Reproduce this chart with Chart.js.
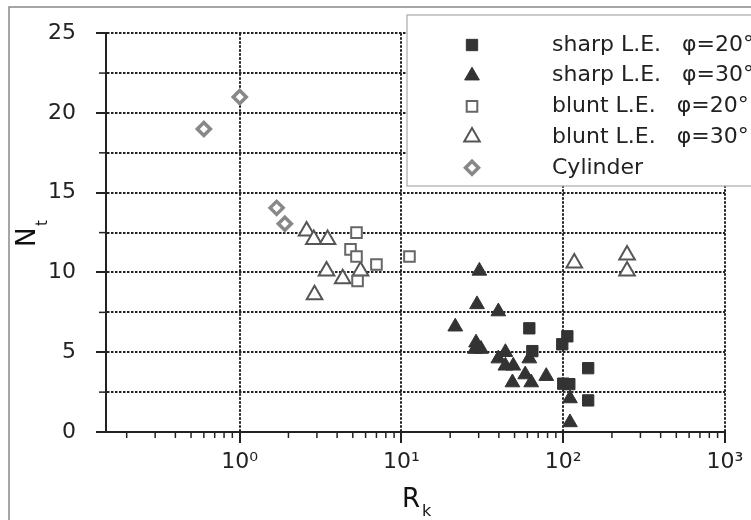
<!DOCTYPE html>
<html>
<head>
<meta charset="utf-8">
<script src="https://cdn.jsdelivr.net/npm/chart.js@4.4.0/dist/chart.umd.min.js"></script>
<style>
  html, body { margin: 0; padding: 0; background: #fff; }
  canvas { display: block; }
</style>
</head>
<body>
<canvas id="chart" width="751" height="520"></canvas>
<script>
// 資料
const seriesNames = ['sharp L.E.   φ=20°', 'sharp L.E.   φ=30°', 'blunt L.E.   φ=20°', 'blunt L.E.   φ=30°', 'Cylinder'];

const sharp20X = [61.7, 106, 98.6, 64.4, 142.6, 100, 109, 142.6];
const sharp20Y = [6.5, 6.0, 5.5, 5.07, 4.0, 3.03, 3.0, 1.98];

const sharp30X = [30.3, 29.3, 39.7, 21.5, 28.9, 28.5, 31, 43.9, 39.7, 61.7, 43.9, 49.1, 58.2, 48.5, 63.4, 78.5, 110, 110];
const sharp30Y = [10.1, 8.0, 7.55, 6.6, 5.6, 5.2, 5.2, 5.0, 4.6, 4.6, 4.15, 4.15, 3.6, 3.1, 3.1, 3.5, 2.1, 0.6];

const blunt20X = [5.27, 4.84, 5.27, 7.0, 11.2, 5.35];
const blunt20Y = [12.5, 11.45, 11.0, 10.5, 11.0, 9.47];

const blunt30X = [2.59, 2.87, 3.49, 3.44, 4.33, 5.58, 2.9, 117, 248, 248];
const blunt30Y = [12.6, 12.07, 12.07, 10.1, 9.6, 10.1, 8.6, 10.6, 11.1, 10.1];

const cylinderX = [0.6, 1.0, 1.69, 1.9];
const cylinderY = [19.0, 21.0, 14.05, 13.06];

const xTickValues = [1, 10, 100, 1000];
const xTickLabels = ['10⁰', '10¹', '10²', '10³'];
const yTickValues = [0, 2.5, 5, 7.5, 10, 12.5, 15, 17.5, 20, 22.5, 25];
const yTickLabels = ['0', '', '5', '', '10', '', '15', '', '20', '', '25'];

const X_MIN = 0.149, X_MAX = 1000;
const FONT = "'DejaVu Sans', sans-serif";
const INK = '#222';

const toPoints = (xs, ys) => xs.map((x, i) => ({ x, y: ys[i] }));

const datasets = [
  { label: seriesNames[0], data: toPoints(sharp20X, sharp20Y), pointStyle: 'rect', pointRadius: 8,
    backgroundColor: '#333', borderColor: '#333', borderWidth: 1 },
  { label: seriesNames[1], data: toPoints(sharp30X, sharp30Y), pointStyle: 'triangle', pointRadius: 8.5,
    backgroundColor: '#333', borderColor: '#333', borderWidth: 1 },
  { label: seriesNames[2], data: toPoints(blunt20X, blunt20Y), pointStyle: 'rect', pointRadius: 7.5,
    backgroundColor: '#fff', borderColor: '#666', borderWidth: 2 },
  { label: seriesNames[3], data: toPoints(blunt30X, blunt30Y), pointStyle: 'triangle', pointRadius: 9,
    backgroundColor: '#fff', borderColor: '#555', borderWidth: 2 },
  { label: seriesNames[4], data: toPoints(cylinderX, cylinderY), pointStyle: 'rectRot', pointRadius: 6.5,
    backgroundColor: '#fff', borderColor: '#888', borderWidth: 3.5 }
];

function drawMarker(ctx, ds, x, y) {
  ctx.save();
  ctx.fillStyle = ds.backgroundColor;
  ctx.strokeStyle = ds.borderColor;
  ctx.lineWidth = ds.borderWidth;
  Chart.helpers.drawPoint(ctx, { pointStyle: ds.pointStyle, radius: ds.pointRadius, borderWidth: ds.borderWidth, rotation: 0 }, x, y);
  ctx.restore();
}

// 外框、次刻度、軸標題、圖例
const decorPlugin = {
  id: 'decor',
  beforeDraw(chart) {
    const ctx = chart.ctx;
    ctx.save();
    ctx.fillStyle = '#fff';
    ctx.fillRect(0, 0, chart.width, chart.height);
    ctx.restore();
  },
  afterDraw(chart) {
    const ctx = chart.ctx;
    const xs = chart.scales.x, ys = chart.scales.y;
    const area = chart.chartArea;
    ctx.save();

    // 外框
    ctx.strokeStyle = '#888';
    ctx.lineWidth = 1.5;
    ctx.beginPath();
    ctx.moveTo(9, chart.height);
    ctx.lineTo(9, 7);
    ctx.lineTo(chart.width, 7);
    ctx.stroke();

    // x 次刻度
    ctx.strokeStyle = INK;
    ctx.lineWidth = 1.5;
    for (let e = -1; e <= 2; e++) {
      for (let m = 2; m <= 9; m++) {
        const v = m * Math.pow(10, e);
        if (v < X_MIN || v > X_MAX) continue;
        const px = xs.getPixelForValue(v);
        ctx.beginPath();
        ctx.moveTo(px, area.bottom);
        ctx.lineTo(px, area.bottom + 6);
        ctx.stroke();
      }
    }
    // y 次刻度
    yTickValues.forEach(v => {
      if (v % 5 === 0) return;
      const py = ys.getPixelForValue(v);
      ctx.beginPath();
      ctx.moveTo(area.left, py);
      ctx.lineTo(area.left - 7, py);
      ctx.stroke();
    });

    // 軸標題
    ctx.fillStyle = '#111';
    ctx.textBaseline = 'alphabetic';
    ctx.textAlign = 'left';
    ctx.font = '26px ' + FONT;
    ctx.fillText('R', 402, 507);
    ctx.font = '16px ' + FONT;
    ctx.fillText('k', 422, 516);

    ctx.save();
    ctx.translate(35, 247);
    ctx.rotate(-Math.PI / 2);
    ctx.font = '26px ' + FONT;
    ctx.fillText('N', 0, 0);
    ctx.font = '15px ' + FONT;
    ctx.fillText('t', 21, 12);
    ctx.restore();

    // 圖例
    const box = { x: 407, y: 15, w: 400, h: 171 };
    ctx.fillStyle = '#fff';
    ctx.fillRect(box.x, box.y, box.w, box.h);
    ctx.strokeStyle = '#aaa';
    ctx.lineWidth = 1.2;
    ctx.strokeRect(box.x, box.y, box.w, box.h);
    ctx.font = '22px ' + FONT;
    ctx.textBaseline = 'middle';
    datasets.forEach((ds, i) => {
      const ry = 45 + i * 30.7;
      drawMarker(ctx, ds, 472, ry);
      ctx.fillStyle = INK;
      ctx.fillText(ds.label, 552, ry);
    });

    ctx.restore();
  }
};

Chart.defaults.font.family = FONT;
Chart.defaults.color = INK;

new Chart(document.getElementById('chart'), {
  type: 'scatter',
  data: { datasets },
  options: {
    responsive: false,
    animation: false,
    devicePixelRatio: 1,
    layout: { padding: { left: 0, top: 28, right: 26, bottom: 0 } },
    plugins: { legend: { display: false }, tooltip: { enabled: false } },
    elements: { point: { hoverRadius: 0 } },
    scales: {
      x: {
        type: 'logarithmic',
        position: 'bottom',
        min: X_MIN,
        max: X_MAX,
        afterBuildTicks: axis => { axis.ticks = xTickValues.map(v => ({ value: v })); },
        afterFit: axis => { axis.height = 88; },
        ticks: {
          autoSkip: false,
          maxRotation: 0,
          padding: 6,
          color: INK,
          font: { size: 22 },
          callback: (v, i) => xTickLabels[i]
        },
        grid: { color: '#222', lineWidth: 2, tickLength: 11, tickColor: INK, tickWidth: 2 },
        border: { display: true, color: INK, width: 2, dash: [2.5, 1.5] }
      },
      y: {
        type: 'linear',
        min: 0,
        max: 25,
        afterBuildTicks: axis => { axis.ticks = yTickValues.map(v => ({ value: v })); },
        afterFit: axis => { axis.width = 106; },
        ticks: {
          autoSkip: false,
          padding: 20,
          color: INK,
          font: { size: 22 },
          callback: (v, i) => yTickLabels[i]
        },
        grid: {
          color: '#222',
          lineWidth: 2,
          tickLength: 10,
          tickWidth: 2,
          tickColor: c => (c.tick && c.tick.value % 5 === 0) ? INK : 'rgba(0,0,0,0)'
        },
        border: { display: true, color: INK, width: 2, dash: [2.5, 1.5] }
      }
    }
  },
  plugins: [decorPlugin]
});
</script>
</body>
</html>
